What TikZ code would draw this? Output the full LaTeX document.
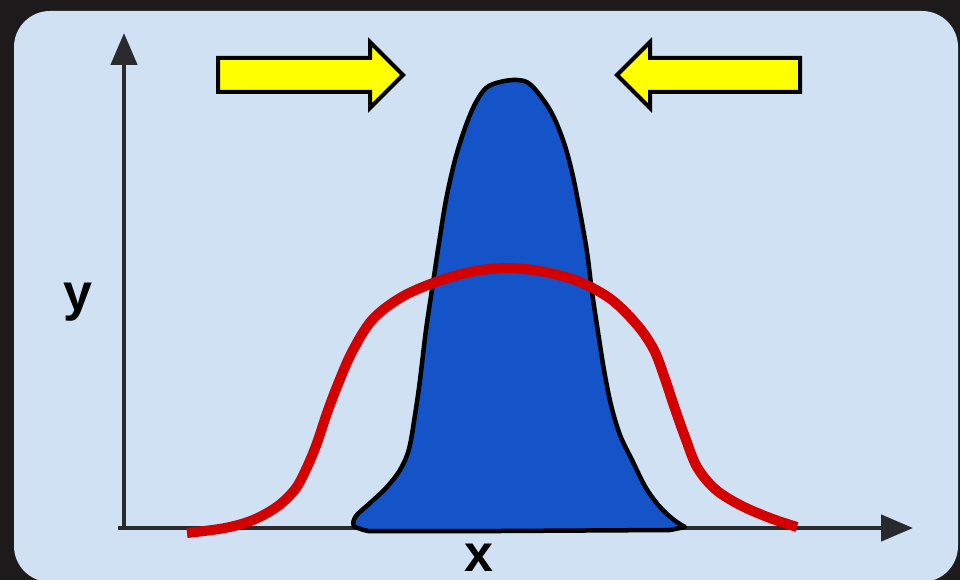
\documentclass[tikz,border=0pt]{standalone}
\usepackage{fontspec}
\setmainfont{Liberation Sans}
\usetikzlibrary{arrows.meta}
\definecolor{bgdark}{RGB}{28,26,26}
\definecolor{panel}{RGB}{207,225,242}
\definecolor{bellblue}{RGB}{20,84,200}
\definecolor{curvered}{RGB}{212,0,0}
\definecolor{axisgray}{RGB}{40,42,46}
\definecolor{arrowyellow}{RGB}{255,255,0}
\tikzset{
  axisline/.style={draw=axisgray, line width=4.5pt, -{Triangle[length=32pt,width=26pt]}},
  pusharrow/.style={fill=arrowyellow, draw=black, line width=4pt, line join=miter},
  axislabel/.style={font=\fontsize{52}{52}\selectfont\bfseries, text=black, inner sep=0pt, anchor=base}
}
\begin{document}
\begin{tikzpicture}[x=1pt,y=-1pt]
\useasboundingbox (0,0) rectangle (960,580);
\fill[bgdark] (0,0) rectangle (960,580);
\fill[panel, rounded corners=36pt] (14,11) rectangle (958,582);
% axes
\coordinate (origin) at (124,528);
\coordinate (ytip) at (124,33);
\coordinate (xstart) at (118,528);
\coordinate (xtip) at (913,528);
\draw[axisline] (124,530) -- (ytip);
\draw[axisline] (xstart) -- (xtip);
% blue bell
\draw[fill=bellblue, draw=black, line width=4.5pt, line join=round]
  plot[smooth, tension=0.55] coordinates {
    (368,531) (354,526) (356,516) (369,504) (386,488) (400,470) (409,449)
    (415,415) (420,380) (426,330) (433,283) (439,243) (446,200) (455,160)
    (465,128) (475,104) (486,88) (500,82) (517,80) (531,85) (550,110)
    (563,140) (572,172) (580,212) (587,252) (592,292) (598,332) (604,370)
    (611,405) (620,435) (632,460) (646,488) (660,507) (674,520) (685,527)}
  -- (670,530) -- (500,531) -- cycle;
% red curve
\draw[curvered, line width=10pt]
  plot[smooth, tension=0.55] coordinates {
    (187,533) (225,528) (253,520) (278,506) (296,488) (308,465) (317,443)
    (327,413) (338,384) (352,352) (372,320) (400,298) (433,283) (470,272)
    (507,268) (545,272) (580,282) (612,300) (638,326) (654,350) (664,376)
    (674,406) (685,437) (697,467) (715,489) (740,505) (770,518) (797,527)};
% yellow arrows
\draw[pusharrow] (218,58) -- (370,58) -- (370,42) -- (403,75) -- (370,108) -- (370,92) -- (218,92) -- cycle;
\draw[pusharrow] (800,58) -- (650,58) -- (650,42) -- (617,75) -- (650,108) -- (650,92) -- (800,92) -- cycle;
% labels
\node[axislabel] (ylabel) at (78,310) {y};
\node[axislabel] (xlabel) at (479,571) {x};
\end{tikzpicture}
\end{document}
